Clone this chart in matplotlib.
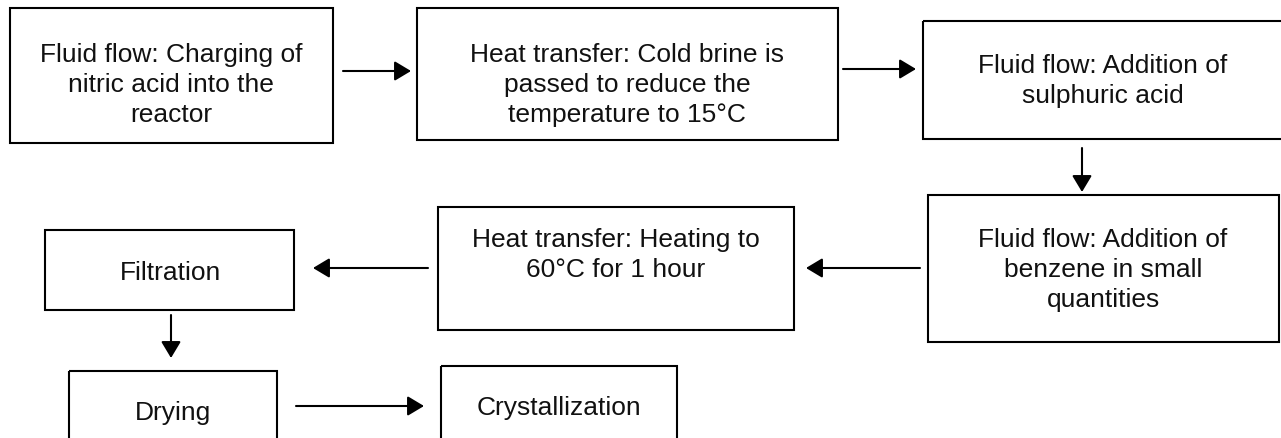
import matplotlib.pyplot as plt
from matplotlib.patches import Rectangle, FancyArrowPatch

plt.rcParams['font.family'] = ['Liberation Sans', 'DejaVu Sans']

# step labels
labels = [
    "Fluid flow: Charging of\nnitric acid into the\nreactor",
    "Heat transfer: Cold brine is\npassed to reduce the\ntemperature to 15\u00b0C",
    "Fluid flow: Addition of\nsulphuric acid",
    "Fluid flow: Addition of\nbenzene in small\nquantities",
    "Heat transfer: Heating to\n60\u00b0C for 1 hour",
    "Filtration",
    "Drying",
    "Crystallization",
]
# flow order: (from step, to step)
links = [(0, 1), (1, 2), (2, 3), (3, 4), (4, 5), (5, 6), (6, 7)]

# layout in pixels: box (x0, y0, x1, y1), text centre
boxes = [
    (10, 9, 333, 144),
    (417, 9, 838, 141),
    (923, 22, 1284, 140),
    (928, 196, 1279, 343),
    (438, 208, 794, 331),
    (45, 231, 294, 311),
    (69, 372, 277, 470),
    (441, 367, 677, 470),
]
text_pos = [(171, 85), (627, 85), (1103, 81), (1103, 270), (616, 255),
            (170, 273), (173, 413), (559, 408)]
arrow_pos = [
    ((343, 72), (411, 72)),
    ((843, 70), (916, 70)),
    ((1082, 149), (1082, 193)),
    ((920, 269), (806, 269)),
    ((428, 269), (313, 269)),
    ((171, 316), (171, 359)),
    ((296, 407), (424, 407)),
]

fig = plt.figure(figsize=(12.81, 4.39), dpi=100)
ax = fig.add_axes([0, 0, 1, 1])
ax.set_xlim(0, 1281)
ax.set_ylim(439, 0)
ax.axis("off")

for lab, (x0, y0, x1, y1), (tx, ty) in zip(labels, boxes, text_pos):
    ax.add_patch(Rectangle((x0, y0), x1 - x0, y1 - y0, fill=False,
                           edgecolor="black", linewidth=1.5))
    ax.text(tx, ty, lab, ha="center", va="center", fontsize=19,
            linespacing=1.3, color="#111111")

for (a, b), (p, q) in zip(links, arrow_pos):
    ax.add_patch(FancyArrowPatch(p, q, arrowstyle="-|>,head_length=0.5,head_width=0.3",
                                 mutation_scale=20, color="black", linewidth=1.5,
                                 shrinkA=0, shrinkB=0))

fig.savefig("out.png", dpi=100)
